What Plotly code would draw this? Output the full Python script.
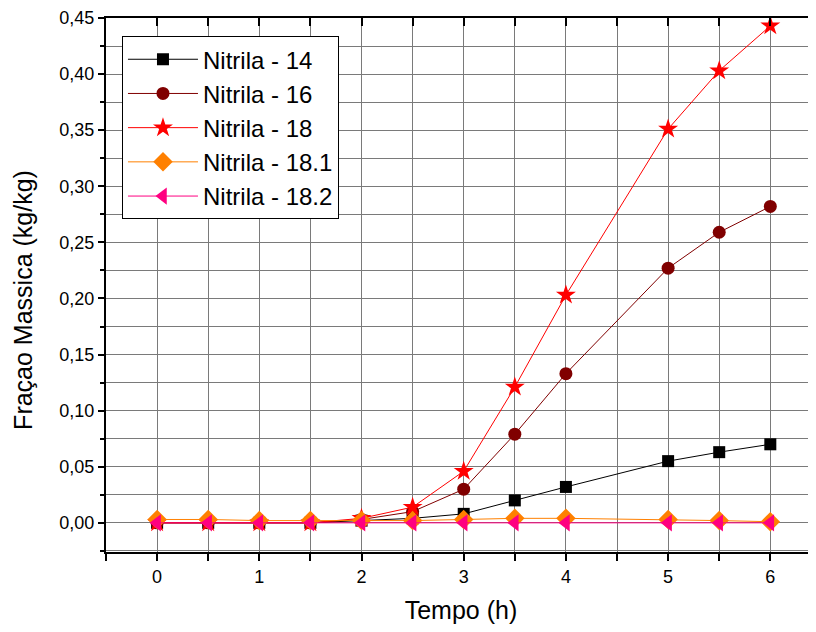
import plotly.graph_objects as go

tempo = [0, 0.5, 1, 1.5, 2, 2.5, 3, 3.5, 4, 5, 5.5, 6]
nitrila_14 = [0.000, 0.000, 0.000, 0.000, 0.002, 0.004, 0.008, 0.020, 0.032, 0.055, 0.063, 0.070]
nitrila_16 = [0.000, 0.000, 0.000, 0.000, 0.003, 0.010, 0.030, 0.079, 0.133, 0.227, 0.259, 0.282]
nitrila_18 = [0.000, 0.000, 0.000, 0.000, 0.004, 0.014, 0.046, 0.121, 0.203, 0.351, 0.403, 0.443]
nitrila_18_1 = [0.003, 0.003, 0.002, 0.002, 0.002, 0.002, 0.003, 0.004, 0.004, 0.003, 0.002, 0.001]
nitrila_18_2 = [0.000, 0.000, 0.000, 0.000, 0.000, 0.000, 0.000, 0.000, 0.000, 0.000, 0.000, 0.000]

series = [
    ("Nitrila - 14", nitrila_14, "#000000", "square", 12),
    ("Nitrila - 16", nitrila_16, "#800000", "circle", 13),
    ("Nitrila - 18", nitrila_18, "#FF0000", "star", 15),
    ("Nitrila - 18.1", nitrila_18_1, "#FF8000", "diamond", 15),
    ("Nitrila - 18.2", nitrila_18_2, "#FF0080", "triangle-left", 15),
]

font_family = "Liberation Sans, Arial, sans-serif"

fig = go.Figure()
for name, vals, color, sym, size in series:
    fig.add_trace(go.Scatter(
        x=tempo, y=vals, name=name, mode="lines+markers",
        line=dict(color=color, width=1),
        marker=dict(symbol=sym, size=size, color=color, line=dict(width=0)),
    ))

grid_color = "#7a7a7a"
fig.update_layout(
    width=808, height=624,
    margin=dict(l=98, r=0, t=10, b=80, autoexpand=False),
    paper_bgcolor="white", plot_bgcolor="white",
    separators=", ",
    font=dict(family=font_family, color="black", size=18),
    showlegend=True,
    legend=dict(
        x=0.0225, y=0.966, xanchor="left", yanchor="top",
        bordercolor="black", borderwidth=1, bgcolor="white",
        font=dict(size=24, family=font_family),
        tracegroupgap=0, itemwidth=70,
    ),
    xaxis=dict(
        range=[-0.5, 6.447], automargin=False,
        tickvals=[0, 1, 2, 3, 4, 5, 6],
        ticks="outside", ticklen=7, tickwidth=2, tickcolor="black",
        showline=True, linecolor="black", linewidth=2,
        showgrid=True, gridcolor=grid_color, gridwidth=1,
        zeroline=False,
        minor=dict(dtick=0.5, tick0=-0.5, ticks="outside", ticklen=7, tickwidth=2,
                   tickcolor="black", showgrid=True, gridcolor=grid_color, gridwidth=1),
        title=dict(text="Tempo (h)", font=dict(size=25), standoff=16),
        tickfont=dict(size=18),
    ),
    xaxis2=dict(
        overlaying="x", side="top", range=[-0.5, 6.447], automargin=False,
        tickvals=[-0.5, 0, 0.5, 1, 1.5, 2, 2.5, 3, 3.5, 4, 4.5, 5, 5.5, 6],
        ticks="inside", ticklen=8, tickwidth=2, tickcolor="black",
        showticklabels=False, showgrid=False, zeroline=False,
        showline=True, linecolor="black", linewidth=2,
    ),
    yaxis=dict(
        range=[-0.026, 0.45], automargin=False,
        tickvals=[0, 0.05, 0.10, 0.15, 0.20, 0.25, 0.30, 0.35, 0.40, 0.45],
        tickformat=".2f",
        ticks="outside", ticklen=6, tickwidth=2, tickcolor="black",
        showline=True, linecolor="black", linewidth=2,
        showgrid=True, gridcolor=grid_color, gridwidth=1,
        zeroline=False,
        minor=dict(dtick=0.025, tick0=0, ticks="outside", ticklen=4, tickwidth=2,
                   tickcolor="black", showgrid=True, gridcolor=grid_color, gridwidth=1),
        tickfont=dict(size=18),
    ),
    annotations=[dict(
        text="Fraçao Massica (kg/kg)", textangle=-90,
        xref="paper", yref="paper", x=-0.117, y=0.472,
        xanchor="center", yanchor="middle", showarrow=False,
        font=dict(size=25, family=font_family, color="black"),
    )],
)

# invisible trace to activate the top mirror axis
fig.add_trace(go.Scatter(x=[0], y=[0], xaxis="x2", mode="markers",
                         marker=dict(opacity=0), showlegend=False, hoverinfo="skip"))

fig.write_html("out.html")
